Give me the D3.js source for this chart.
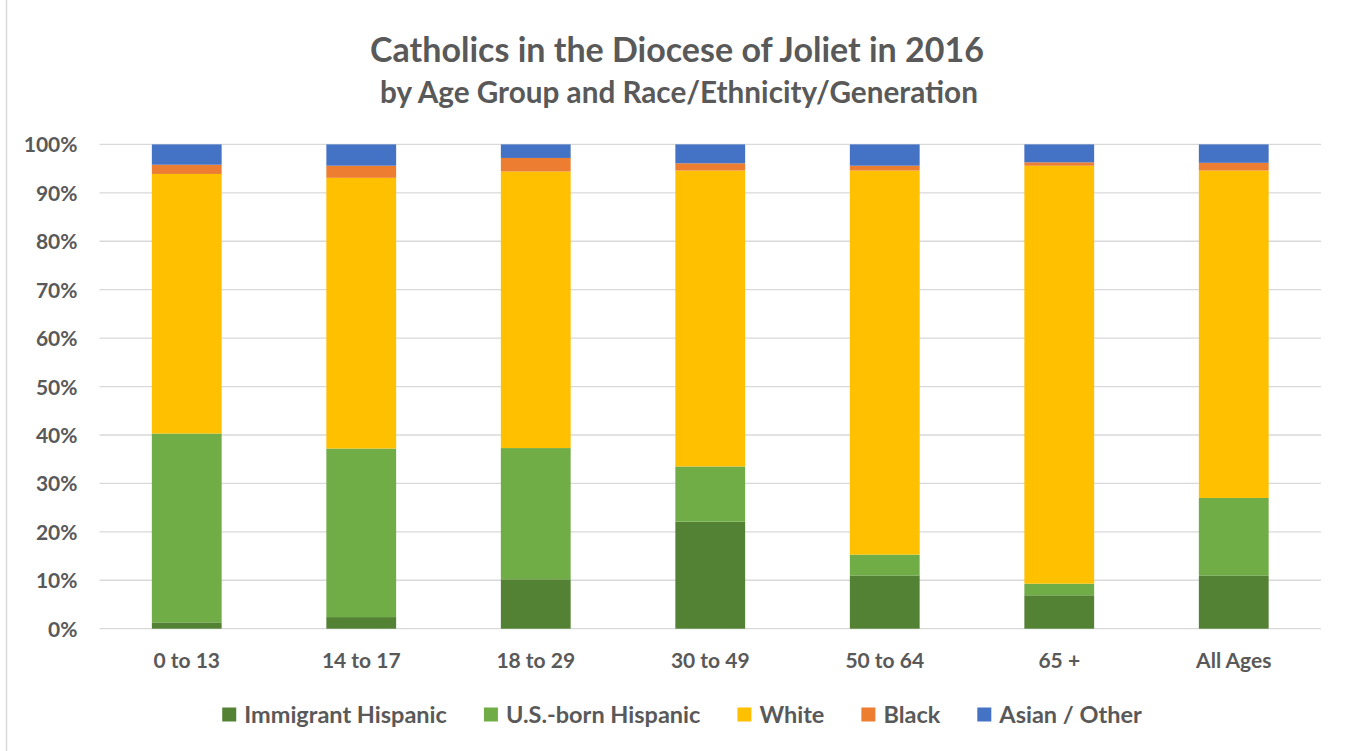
<!DOCTYPE html>
<html>
<head>
<meta charset="utf-8">
<script src="https://cdn.jsdelivr.net/npm/d3@7"></script>
<style>
  html, body { margin: 0; padding: 0; background: #fff; }
  text { font-family: Lato, "Open Sans", sans-serif; font-weight: bold; fill: #595959; }
</style>
</head>
<body>
<div id="chart"></div>
<script>
// data (percent of each age group)
const ageGroups = ["0 to 13", "14 to 17", "18 to 29", "30 to 49", "50 to 64", "65 +", "All Ages"]
const seriesNames = ["Immigrant Hispanic", "U.S.-born Hispanic", "White", "Black", "Asian / Other"]
const immigrantHispanic = [1.3, 2.4, 10.2, 22.1, 11.0, 6.9, 11.0]
const usBornHispanic = [39.0, 34.8, 27.1, 11.4, 4.3, 2.4, 16.0]
const white = [53.6, 55.9, 57.1, 61.1, 79.3, 86.3, 67.6]
const black = [1.9, 2.5, 2.8, 1.5, 1.0, 0.7, 1.6]
const asianOther = [4.2, 4.4, 2.8, 3.9, 4.4, 3.7, 3.8]
const yTicks = [0, 10, 20, 30, 40, 50, 60, 70, 80, 90, 100]

const colors = ["#548235", "#70AD47", "#FFC000", "#ED7D31", "#4472C4"]

const width = 1349
const height = 751
const margin = { top: 144.4, right: 28, bottom: 122.3, left: 99.5 }

const rows = ageGroups.map((g, i) => ({
  group: g,
  [seriesNames[0]]: immigrantHispanic[i],
  [seriesNames[1]]: usBornHispanic[i],
  [seriesNames[2]]: white[i],
  [seriesNames[3]]: black[i],
  [seriesNames[4]]: asianOther[i]
}))
const stacked = d3.stack().keys(seriesNames)(rows)

const svg = d3.select("#chart").append("svg")
  .attr("width", width)
  .attr("height", height)

// chart frame (only left edge visible in the crop)
svg.append("line")
  .attr("x1", 6.5).attr("x2", 6.5)
  .attr("y1", 0).attr("y2", height)
  .attr("stroke", "#d9d9d9").attr("stroke-width", 1.5)

// shrink/grow a text node until it spans the given width
const fit = (sel, target) => {
  let size = parseFloat(sel.style("font-size"))
  let w = sel.node().getComputedTextLength()
  sel.style("font-size", (size * target / w).toFixed(2) + "px")
}

// titles
svg.append("text")
  .attr("x", 677).attr("y", 62)
  .attr("text-anchor", "middle")
  .style("font-size", "29px")
  .text("Catholics in the Diocese of Joliet in 2016")
  .call(fit, 614)
svg.append("text")
  .attr("x", 679).attr("y", 103)
  .attr("text-anchor", "middle")
  .style("font-size", "24px")
  .text("by Age Group and Race/Ethnicity/Generation")
  .call(fit, 598)

// scales
let x = d3.scaleBand()
  .domain(ageGroups)
  .range([margin.left, width - margin.right])
  .paddingInner(0.6)
  .paddingOuter(0.3)
let y = d3.scaleLinear()
  .domain([0, 100])
  .range([height - margin.bottom, margin.top])

// gridlines
svg.append("g")
  .attr("class", "grid")
  .selectAll("line")
  .data(yTicks)
  .enter()
  .append("line")
  .attr("x1", margin.left)
  .attr("x2", width - margin.right)
  .attr("y1", d => y(d))
  .attr("y2", d => y(d))
  .attr("stroke", "#d9d9d9")
  .attr("stroke-width", 1.3)

// y axis labels
let yAxis = svg.append("g")
  .attr("transform", "translate(" + (margin.left - 22) + ",0)")
  .call(d3.axisLeft(y).tickValues(yTicks).tickSize(0).tickFormat(d => d + "%"))
yAxis.select(".domain").remove()
yAxis.selectAll("text")
  .attr("x", 0)
  .attr("dy", "0.36em")
  .style("font-size", "21px")
  .style("font-family", "Lato, 'Open Sans', sans-serif")
  .attr("fill", "#595959")

// bars
svg.append("g")
  .selectAll("g")
  .data(stacked)
  .enter()
  .append("g")
  .attr("fill", (d, i) => colors[i])
  .selectAll("rect")
  .data(d => d)
  .enter()
  .append("rect")
  .attr("x", d => x(d.data.group))
  .attr("width", x.bandwidth())
  .attr("y", d => y(d[1]))
  .attr("height", d => y(d[0]) - y(d[1]))

// x axis labels
let xAxis = svg.append("g")
  .attr("transform", "translate(0," + (height - margin.bottom) + ")")
  .call(d3.axisBottom(x).tickSize(0).tickPadding(0))
xAxis.select(".domain").remove()
xAxis.selectAll("text")
  .attr("y", 39)
  .attr("dy", 0)
  .style("font-size", "21px")
  .style("font-family", "Lato, 'Open Sans', sans-serif")
  .attr("fill", "#595959")

// legend
let legend = svg.append("g")
let cursor = 0
seriesNames.forEach((name, i) => {
  let g = legend.append("g")
  g.append("rect")
    .attr("y", -15.5)
    .attr("width", 14)
    .attr("height", 14)
    .attr("fill", colors[i])
  let t = g.append("text")
    .attr("x", 22)
    .attr("y", 0)
    .style("font-size", "23.5px")
    .text(name)
  g.attr("transform", "translate(" + cursor + ",0)")
  cursor += 22 + t.node().getComputedTextLength() + 37
})
let legendWidth = cursor - 37
legend.attr("transform", "translate(" + (682 - legendWidth / 2) + ",723)")
</script>
</body>
</html>
